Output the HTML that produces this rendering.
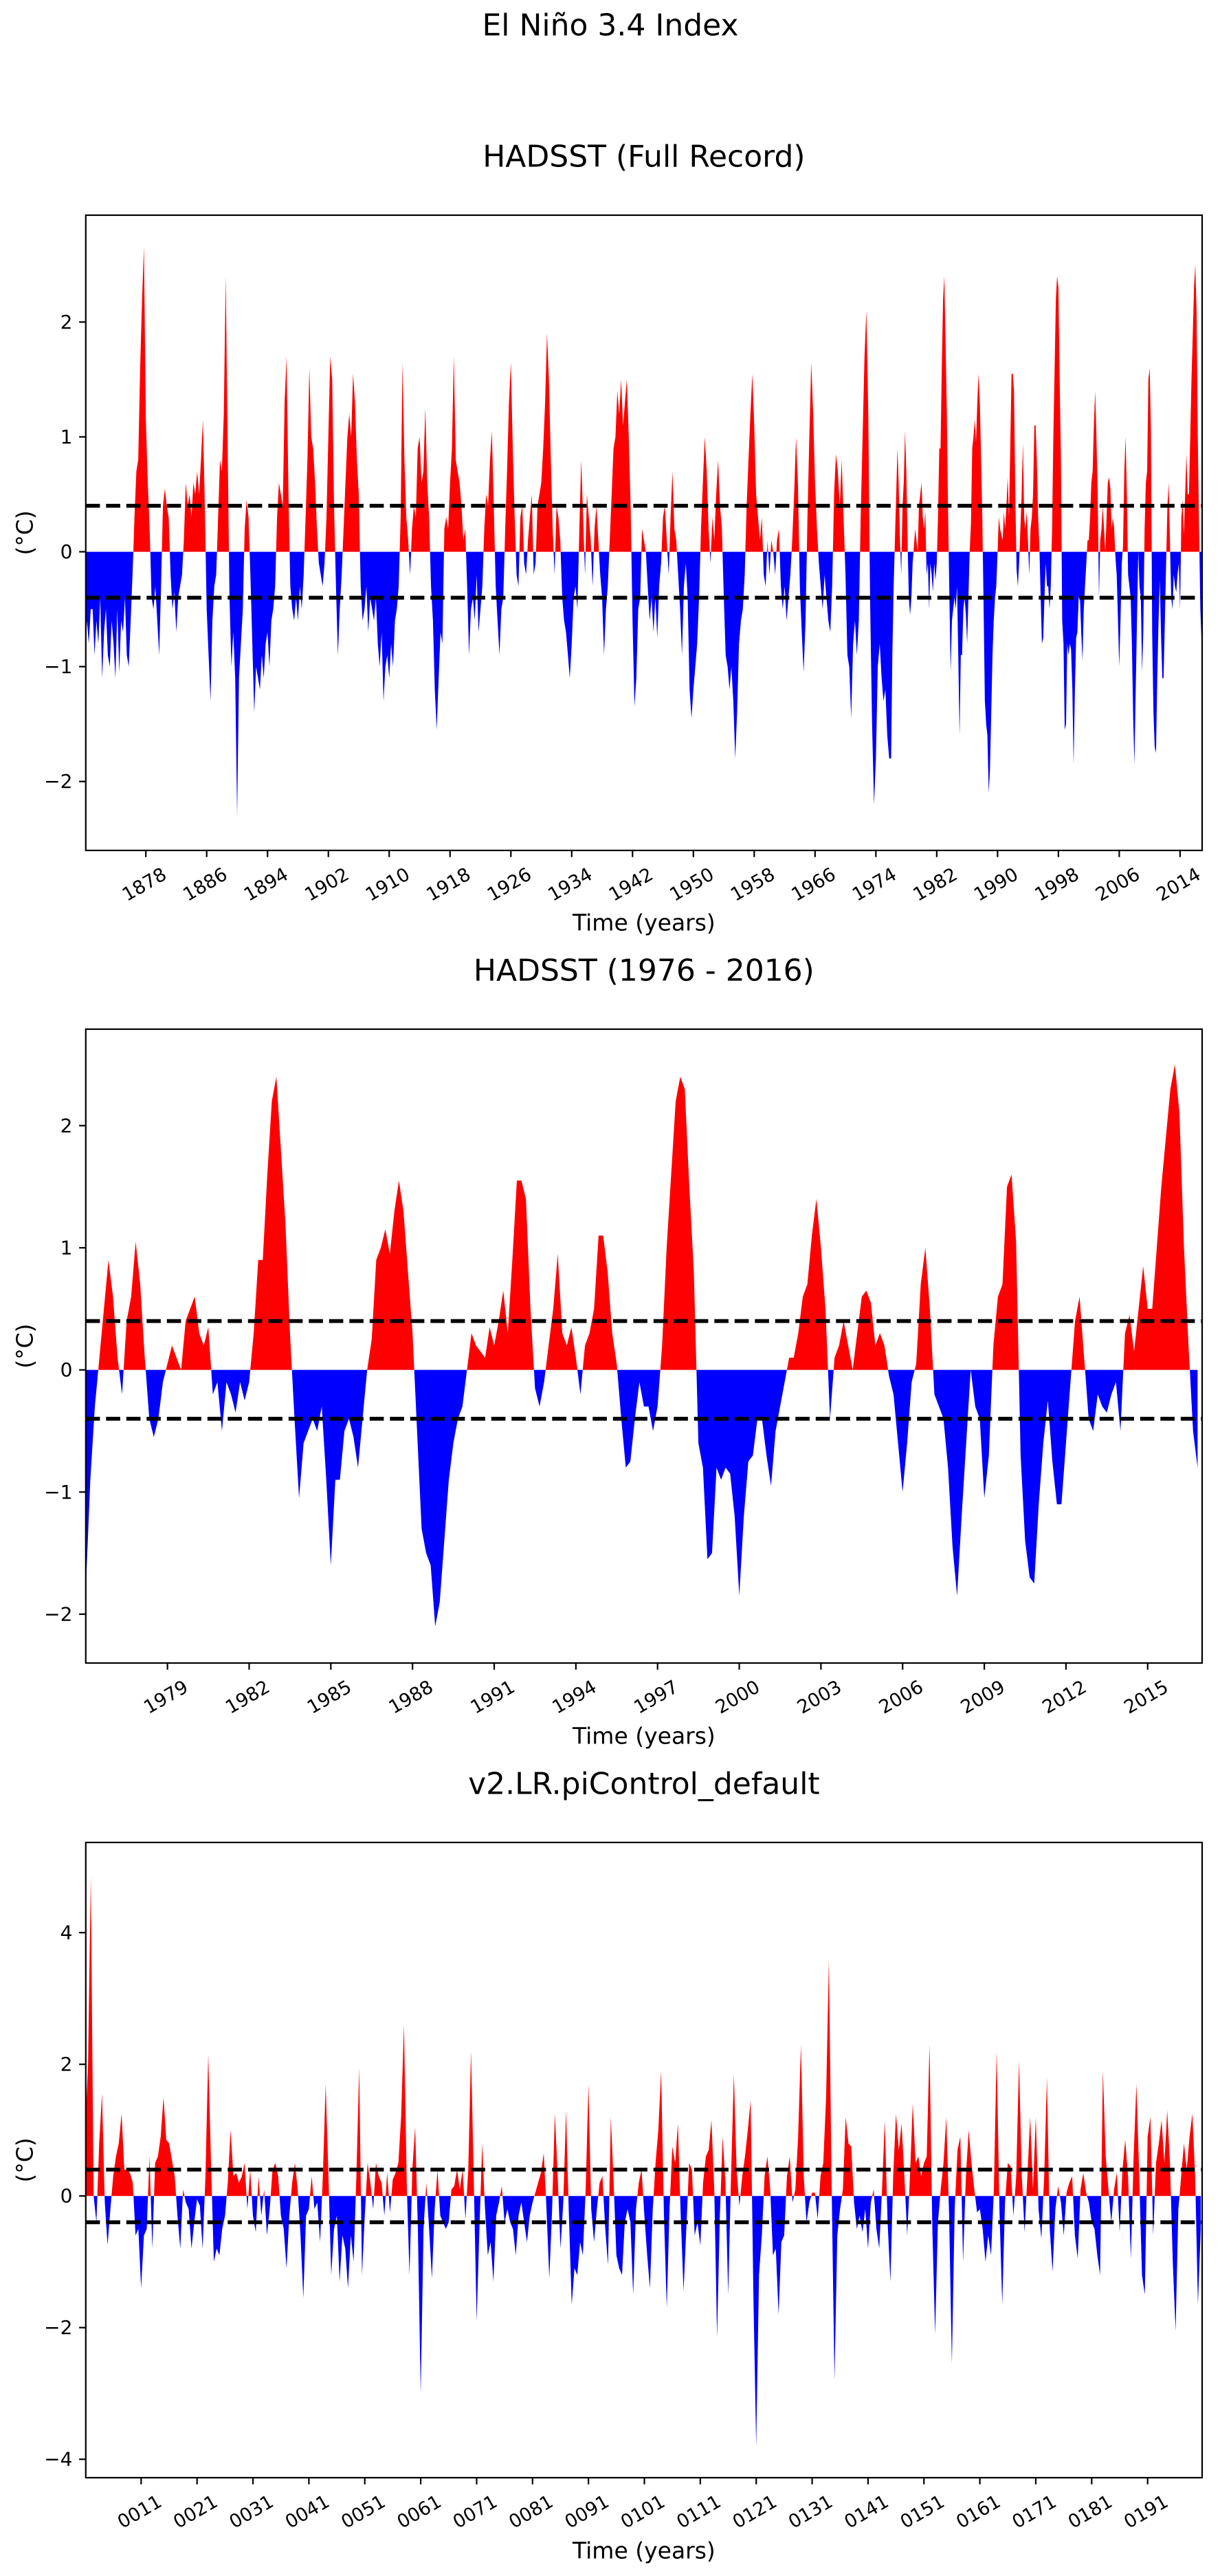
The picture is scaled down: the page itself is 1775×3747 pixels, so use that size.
<!DOCTYPE html>
<html><head><meta charset="utf-8"><title>El Niño 3.4 Index</title>
<style>html,body{margin:0;padding:0;background:#fff}svg{display:block}text{font-family:"DejaVu Sans","Liberation Sans",sans-serif;fill:#000}</style>
</head><body>
<svg id="fig" width="1775" height="3747" viewBox="0 0 1775 3747" xmlns="http://www.w3.org/2000/svg">
<rect width="1775" height="3747" fill="#fff"/>
<text x="888" y="37" font-size="44" text-anchor="middle" dominant-baseline="central">El Niño 3.4 Index</text>
</svg>
<script>
// HADSST 1870.0-1975.75, quarterly
const hadEarly = [
-1.0,-0.6,-0.8,-0.5, -0.5,-0.9,-0.6,-0.8, -0.4,-1.1,-0.7,-0.5, -0.9,-1.0,-0.6,-0.8, -1.1,-0.5,-1.05,-0.6,
-0.7,-0.4,-0.9,-1.0, -0.6,-0.2,0.3,0.7, 0.8,1.6,2.2,2.65, 1.15,0.6,0.2,-0.4, -0.5,-0.3,-0.6,-0.9,
-0.3,0.4,0.55,0.4, 0.3,-0.2,-0.5,-0.35, -0.7,-0.4,-0.3,-0.2, 0.1,0.6,0.4,0.5, 0.3,0.6,0.5,0.7,
0.5,0.8,1.15,0.4, -0.5,-0.9,-1.3,-0.6, -0.3,-0.2,0.3,0.8, 0.7,1.2,2.4,1.0, -0.4,-1.0,-0.7,-1.1,
-2.3,-1.1,-0.8,-0.5, 0.2,0.45,0.3,-0.2, -0.8,-1.4,-1.0,-1.1, -1.2,-0.9,-1.1,-0.8, -0.7,-1.0,-0.6,-0.5,
-0.3,0.3,0.6,0.5, 0.4,1.3,1.7,0.5, -0.3,-0.5,-0.6,-0.4, -0.6,-0.3,-0.5,-0.2, 0.3,0.8,1.6,1.0,
0.9,0.6,0.2,-0.1, -0.2,-0.3,-0.1,0.3, 1.0,1.7,1.5,0.4, -0.3,-0.9,-0.5,-0.2, 0.2,0.6,1.0,1.2,
1.0,1.55,1.3,0.8, 0.5,-0.3,-0.6,-0.5, -0.3,-0.7,-0.4,-0.5, -0.6,-0.4,-0.8,-1.0, -0.7,-1.3,-1.0,-0.9,
-1.1,-0.8,-1.0,-0.6, -0.5,-0.3,0.3,1.65, 0.8,0.3,0.1,-0.2, 0.2,0.4,0.3,0.9, 1.0,0.6,0.7,1.25,
0.6,0.3,-0.3,-0.6, -1.2,-1.55,-1.1,-0.7, -0.8,0.2,0.3,0.2, 0.6,0.9,1.7,0.8, 0.7,0.6,0.4,0.1,
0.2,-0.3,-0.9,-0.5, -0.4,-0.6,-0.2,-0.7, -0.5,-0.3,0.2,0.5, 0.4,0.8,1.05,0.4, -0.3,-0.6,-0.9,-0.5,
-0.4,0.2,0.7,1.3, 1.65,0.9,0.3,-0.2, -0.3,0.3,0.4,-0.1, -0.2,0.1,0.3,0.5, -0.2,-0.1,0.4,0.5,
0.6,0.9,1.3,1.9, 1.5,0.8,0.2,-0.2, 0.4,0.3,0.1,-0.4, -0.6,-0.7,-0.9,-1.1, -0.8,-0.4,-0.3,-0.5,
0.2,0.8,0.3,-0.2, 0.5,0.3,0.1,-0.3, 0.2,0.4,0.1,-0.2, -0.4,-0.9,-0.5,-0.3, 0.1,0.5,0.9,1.0,
1.4,1.2,1.5,1.1, 1.3,1.5,1.0,0.4, -0.6,-1.35,-1.1,-0.5, -0.4,0.2,0.1,0.0, -0.3,-0.6,-0.4,-0.7,
-0.4,-0.75,-0.3,-0.1, 0.3,0.4,0.1,-0.2, 0.3,0.7,0.2,0.1, -0.2,-0.5,-0.9,-0.3, -0.1,-0.4,-1.2,-1.45,
-1.2,-1.0,-0.8,-0.4, 0.2,0.6,1.0,0.7, 0.2,-0.1,0.3,0.1, 0.5,0.8,0.4,0.2, -0.4,-0.9,-1.0,-1.2,
-1.0,-1.3,-1.8,-1.4, -0.8,-0.6,-0.5,-0.2, 0.4,0.8,1.2,1.55, 1.1,0.5,0.3,0.1, 0.3,-0.2,-0.3,0.1,
-0.2,0.1,0.0,-0.2, 0.1,0.2,-0.3,-0.5, -0.3,-0.6,-0.4,-0.2, 0.1,0.5,1.0,0.6, -0.3,-0.7,-1.05,-0.6,
0.3,1.0,1.65,1.2, 0.6,0.2,-0.1,-0.3, -0.5,-0.2,-0.4,-0.6, -0.7,-0.3,0.5,0.85, 0.7,0.4,0.8,0.3,
-0.2,-0.9,-1.0,-1.45, -0.8,-0.6,-0.9,-0.6, 0.3,1.0,1.7,2.1, 1.2,-0.5,-1.5,-2.2, -1.8,-1.0,-0.8,-1.1,
-1.3,-1.2,-1.6,-1.8
];
// HADSST 1976.0-2016.83, every two months
const hadRecent = [
-1.8,-0.9,-0.3,0.1,0.5,0.9, 0.6,0.1,-0.2,0.4,0.6,1.05, 0.7,0.1,-0.4,-0.55,-0.4,-0.1,
0.05,0.2,0.1,0.0,0.4,0.5, 0.6,0.3,0.2,0.35,-0.2,-0.1, -0.5,-0.1,-0.2,-0.35,-0.1,-0.25,
-0.1,0.3,0.9,0.9,1.6,2.2, 2.4,1.8,1.2,0.3,-0.4,-1.05, -0.6,-0.5,-0.4,-0.5,-0.3,-0.9,
-1.6,-0.9,-0.9,-0.5,-0.4,-0.55, -0.8,-0.4,0.0,0.25,0.9,1.0, 1.15,0.95,1.3,1.55,1.3,0.8,
0.3,-0.5,-1.3,-1.5,-1.6,-2.1, -1.9,-1.4,-0.9,-0.6,-0.4,-0.3, 0.0,0.3,0.2,0.15,0.1,0.35,
0.2,0.4,0.65,0.3,0.9,1.55, 1.55,1.4,0.5,-0.15,-0.3,-0.1, 0.2,0.5,0.95,0.3,0.2,0.35,
0.1,-0.2,0.2,0.3,0.5,1.1, 1.1,0.8,0.3,0.05,-0.4,-0.8, -0.75,-0.4,-0.1,-0.3,-0.3,-0.5,
-0.3,0.2,1.0,1.6,2.2,2.4, 2.3,1.5,0.8,-0.6,-0.8,-1.55, -1.5,-0.8,-0.9,-0.8,-0.85,-1.2,
-1.85,-1.2,-0.75,-0.7,-0.4,-0.4, -0.7,-0.95,-0.5,-0.3,-0.1,0.1, 0.1,0.3,0.6,0.7,1.1,1.4,
1.0,0.5,-0.4,0.1,0.2,0.4, 0.2,0.0,0.3,0.6,0.65,0.55, 0.2,0.3,0.2,-0.05,-0.2,-0.6,
-1.0,-0.6,-0.1,0.05,0.7,1.0, 0.5,-0.2,-0.3,-0.4,-0.8,-1.45, -1.85,-1.2,-0.6,0.0,-0.3,-0.4,
-1.05,-0.7,0.2,0.6,0.7,1.5, 1.6,1.05,-0.7,-1.4,-1.7,-1.75, -1.1,-0.6,-0.25,-0.75,-1.1,-1.1,
-0.6,-0.1,0.4,0.6,0.1,-0.4, -0.5,-0.2,-0.3,-0.35,-0.2,-0.1, -0.5,0.3,0.45,0.15,0.5,0.85,
0.5,0.5,1.0,1.5,1.9,2.3, 2.5,2.1,1.0,0.2,-0.5,-0.8
];
// piControl years 1.0-200.5, half-yearly
const piValues = [
1.0,2.0,4.85,0.0,-0.4,0.8,1.55,-0.1,-0.75,-0.2, 0.3,0.6,0.8,1.25,0.4,0.4,0.35,0.2,-0.6,-0.5,
-1.4,-0.6,-0.5,0.6,-0.8,0.5,0.6,0.9,1.5,0.85, 0.8,0.55,0.3,-0.3,-0.8,0.1,-0.1,-0.2,-0.8,-0.4,
-0.05,-0.15,-0.8,0.3,2.15,0.5,-1.0,-0.8,-0.9,-0.5, -0.3,0.2,1.0,0.3,0.35,0.2,0.3,0.5,-0.2,0.4,
-0.3,-0.55,0.3,-0.3,0.1,-0.6,-0.2,0.4,0.5,0.3, -0.3,-0.5,-1.1,-0.3,0.2,0.5,0.1,-0.6,-1.55,-0.3,
-0.2,0.3,-0.2,-0.1,-0.7,0.3,1.7,0.3,-1.2,-0.5, -0.3,-1.3,-0.6,-0.8,-1.4,-0.6,-1.0,0.3,1.95,-1.2,
-0.3,0.5,0.2,-0.2,0.5,0.3,0.2,-0.3,0.35,-0.25, 0.25,0.35,0.5,1.2,2.6,0.2,-1.2,0.4,1.05,-0.5,
-3.0,-0.5,0.2,-0.5,-1.25,-0.2,0.4,-0.3,-0.4,-0.5, -0.4,0.1,0.15,0.4,0.1,0.4,-0.35,0.4,2.2,0.2,
-1.9,-0.5,0.8,-0.2,-0.9,-0.7,-1.3,-0.3,-0.1,0.15, -0.4,-0.2,-0.4,-0.5,-0.9,-0.3,-0.1,-0.4,-0.7,-0.3,
-0.1,0.05,0.2,0.35,0.65,-0.2,-1.25,-0.2,1.25,0.3, -0.8,-0.1,1.3,-0.3,-1.65,-1.1,-1.2,-0.7,-0.9,0.1,
1.7,-0.2,-0.7,-0.2,0.2,0.3,-0.5,-1.05,1.2,0.2, -0.9,-1.1,-1.2,-0.4,-0.2,-0.4,-1.5,-0.2,0.2,0.4,
-0.3,-0.9,-1.4,-0.2,0.5,1.0,1.9,-0.3,-1.7,-0.2, 0.75,0.5,1.1,-0.3,-1.45,-0.5,0.5,0.4,-0.6,-0.4,
-0.75,0.2,0.6,0.7,1.15,0.1,-2.15,-0.3,0.9,0.2, -1.5,0.3,1.85,0.4,-0.15,0.3,0.6,1.0,1.45,-1.5,
-3.8,-1.2,-0.6,0.3,0.6,0.1,-0.9,-0.8,-1.8,-0.7, -0.6,0.3,0.6,-0.1,0.1,0.9,2.3,0.3,-0.4,-0.1,
0.05,0.05,-0.35,0.3,0.5,1.5,3.6,0.1,-2.8,-0.6, -0.2,0.1,1.2,0.8,0.75,-0.1,-0.5,-0.3,-0.55,-0.2,
-0.8,-0.1,0.1,-0.5,-0.8,0.1,1.15,-0.4,-1.3,0.3, 1.25,0.7,1.1,0.3,-0.6,0.3,1.4,0.5,0.6,0.3,
0.5,0.6,2.3,-0.5,-2.1,-0.4,0.1,0.5,1.2,-0.3, -2.55,-0.2,0.7,0.9,-1.0,0.3,1.0,0.5,0.1,-0.25,
-0.2,-0.5,-1.0,-0.6,-0.9,0.1,2.2,-0.2,-1.65,-0.1, 0.5,0.45,-0.3,0.3,2.05,0.3,-0.55,0.3,1.2,0.1,
1.2,-0.2,-0.65,0.3,1.8,-0.5,-1.15,-0.2,0.15,-0.1, -0.6,0.05,0.2,0.3,-0.6,-0.95,0.1,0.35,0.05,-0.1,
-0.4,-0.5,-0.9,-1.2,1.9,0.6,0.1,-0.4,0.1,0.35, -0.55,0.4,0.85,0.3,-0.95,0.6,1.7,0.3,-1.2,-1.5,
0.9,1.2,-0.6,0.5,0.8,1.15,0.5,1.3,0.5,-1.0, -2.05,-0.2,0.3,0.8,0.4,0.9,1.25,0.3,-1.65,-0.5
];
const yTicks1 = [-2,-1,0,1,2];
const yTicks3 = [-4,-2,0,2,4];
const xTicks1 = [1878,1886,1894,1902,1910,1918,1926,1934,1942,1950,1958,1966,1974,1982,1990,1998,2006,2014];
const xTicks2 = [1979,1982,1985,1988,1991,1994,1997,2000,2003,2006,2009,2012,2015];
const xTicks3 = [11,21,31,41,51,61,71,81,91,101,111,121,131,141,151,161,171,181,191];
const thresholds = [0.4,-0.4];

const NS='http://www.w3.org/2000/svg';
const fig=document.getElementById('fig');
function mk(tag,attrs,parent){const e=document.createElementNS(NS,tag);for(const k in attrs)e.setAttribute(k,attrs[k]);(parent||fig).appendChild(e);return e;}

const early=hadEarly.map((v,i)=>[1870+i*0.25,v]);
const recent=hadRecent.map((v,i)=>[1976+i/6,v]);
const full=early.concat(recent);
const pi=piValues.map((v,i)=>[1+i*0.5,v]);

const L=124.8,R=1749;
const panels=[
 {id:'full',title:'HADSST (Full Record)',titleY:228,top:313,bot:1237,xmin:1870.1,xmax:2016.9,ymin:-2.60,ymax:2.93,data:full,xt:xTicks1,yt:yTicks1,fmt:v=>String(v),labY:1342},
 {id:'recent',title:'HADSST (1976 - 2016)',titleY:1412,top:1497,bot:2419,xmin:1976.0,xmax:2017.0,ymin:-2.40,ymax:2.79,data:recent,xt:xTicks2,yt:yTicks1,fmt:v=>String(v),labY:2525},
 {id:'picontrol',title:'v2.LR.piControl_default',titleY:2595,top:2680,bot:3604,xmin:1.1,xmax:200.75,ymin:-4.28,ymax:5.37,data:pi,xt:xTicks3,yt:yTicks3,fmt:v=>String(v).padStart(4,'0'),labY:3710}
];

panels.forEach((p,pi_)=>{
 const X=t=>L+(t-p.xmin)/(p.xmax-p.xmin)*(R-L);
 const Y=v=>p.bot-(v-p.ymin)/(p.ymax-p.ymin)*(p.bot-p.top);
 const g=mk('g',{});
 
 
 const t=mk('text',{x:(L+R)/2,y:p.titleY,'font-size':44,'text-anchor':'middle','dominant-baseline':'central'},g);
 t.textContent=p.title;
 
 
 const cp=mk('clipPath',{id:'clip'+pi_},g);
 mk('rect',{x:L,y:p.top,width:R-L,height:p.bot-p.top},cp);
 // build points with zero crossings
 const pts=[];
 for(let i=0;i<p.data.length;i++){
  const [t0,v0]=p.data[i];
  if(i>0){const [tp,vp]=p.data[i-1];if((vp>0&&v0<0)||(vp<0&&v0>0)){const tc=tp+(t0-tp)*(vp/(vp-v0));pts.push([tc,0]);}}
  pts.push([t0,v0]);
 }
 const z=Y(0);
 function area(fn){let d='M'+X(pts[0][0]).toFixed(1)+','+z.toFixed(1);pts.forEach(q=>{d+='L'+X(q[0]).toFixed(1)+','+Y(fn(q[1])).toFixed(1);});d+='L'+X(pts[pts.length-1][0]).toFixed(1)+','+z.toFixed(1)+'Z';return d;}
 const pos=mk('path',{d:area(v=>Math.max(v,0)),fill:'#ff0000','clip-path':'url(#clip'+pi_+')'},g);
 
 
 const neg=mk('path',{d:area(v=>Math.min(v,0)),fill:'#0000ff','clip-path':'url(#clip'+pi_+')'},g);
 
 
 thresholds.forEach(th=>{
  const ln=mk('line',{x1:L,x2:R,y1:Y(th),y2:Y(th),stroke:'#000','stroke-width':5.6,'stroke-dasharray':'20.6 8.9'},g);
  
  
 });
 const fr=mk('rect',{x:L,y:p.top,width:R-L,height:p.bot-p.top,fill:'none',stroke:'#000','stroke-width':2.2},g);
 
 
 p.yt.forEach(v=>{
  const y=Y(v);
  mk('line',{x1:L-9.7,x2:L,y1:y,y2:y,stroke:'#000','stroke-width':2.2},g);
  const tl=mk('text',{x:L-19.4,y:y,'font-size':28,'text-anchor':'end','dominant-baseline':'central'},g);
  tl.textContent=(v<0?'\u2212':'')+Math.abs(v);
  
  
 });
 p.xt.forEach(v=>{
  const x=X(v);
  mk('line',{x1:x,x2:x,y1:p.bot,y2:p.bot+9.7,stroke:'#000','stroke-width':2.2},g);
  const cx=x-2,cy=p.bot+50;
  const tl=mk('text',{x:cx,y:cy,'font-size':27,'text-anchor':'middle','dominant-baseline':'central',transform:'rotate(-30 '+cx+' '+cy+')'},g);
  tl.textContent=p.fmt(v);
  
  
 });
 const xl=mk('text',{x:(L+R)/2,y:p.labY,'font-size':33,'text-anchor':'middle','dominant-baseline':'central'},g);
 xl.textContent='Time (years)';
 
 
 const yc=(p.top+p.bot)/2;
 const yl=mk('text',{x:36,y:yc,'font-size':33,'text-anchor':'middle','dominant-baseline':'central',transform:'rotate(-90 36 '+yc+')'},g);
 yl.textContent='(°C)';
 
 
});
</script>
</body></html>
